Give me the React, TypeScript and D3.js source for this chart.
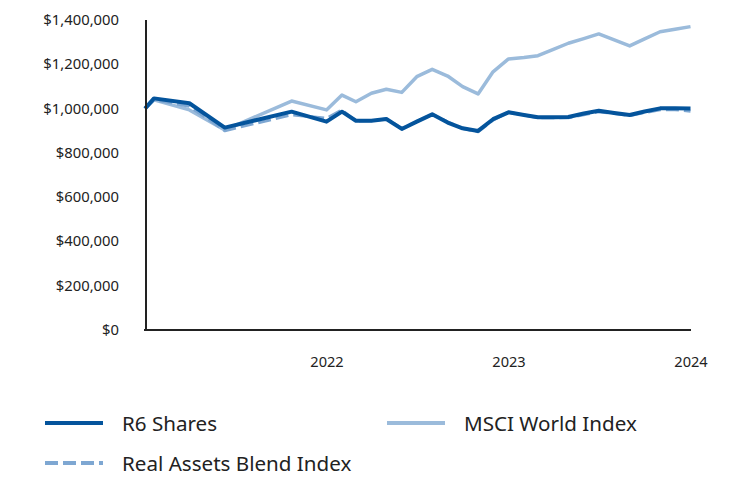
import React from 'react';
import * as d3 from 'd3';

// dates of the points (early ones are irregular, then month ends)
const dates = [
  '2021-01-01', '2021-01-19', '2021-03-31', '2021-06-10', '2021-10-22', '2021-12-31',
  '2022-01-31', '2022-02-28', '2022-03-31', '2022-04-30', '2022-05-31', '2022-06-30',
  '2022-07-31', '2022-08-31', '2022-09-30', '2022-10-31', '2022-11-30', '2022-12-31',
  '2023-01-31', '2023-02-28', '2023-03-31', '2023-04-30', '2023-05-31', '2023-06-30',
  '2023-07-31', '2023-08-31', '2023-09-30', '2023-10-31', '2023-11-30', '2023-12-31',
];

const r6Shares = [
  1000000, 1046000, 1024000, 914000, 986000, 941000,
  986000, 945000, 945000, 953000, 908000, 941000,
  974000, 937000, 911000, 899000, 952000, 983000,
  971000, 961000, 961000, 962000, 978000, 990000,
  980000, 971000, 987000, 1001000, 1001000, 1000000,
];

const msciWorld = [
  1000000, 1039000, 994000, 903000, 1034000, 994000,
  1061000, 1031000, 1069000, 1087000, 1073000, 1144000,
  1177000, 1147000, 1099000, 1066000, 1166000, 1224000,
  1231000, 1239000, 1267000, 1295000, 1316000, 1337000,
  1310000, 1283000, 1315000, 1347000, 1358000, 1370000,
];

const realAssets = [
  1000000, 1040000, 1010000, 900000, 972000, 956000,
  994000, 943000, 945000, 953000, 911000, 941000,
  974000, 940000, 910000, 895000, 948000, 983000,
  971000, 958000, 958000, 958000, 972000, 985000,
  978000, 968000, 982000, 995000, 995000, 988000,
];

const yTicks = [0, 200000, 400000, 600000, 800000, 1000000, 1200000, 1400000];
const xTicks = ['2022-01-01', '2023-01-01', '2024-01-01'];

const font = "'Segoe UI', 'Noto Sans', sans-serif";

export default function App() {
  const width = 732;
  const height = 480;
  const parse = d3.utcParse('%Y-%m-%d');

  const x = d3
    .scaleUtc()
    .domain([parse('2021-01-01') as Date, parse('2024-01-01') as Date])
    .range([145, 691]);
  const y = d3.scaleLinear().domain([0, 1400000]).range([330, 20]);

  const mk = (vals: number[]) =>
    d3
      .line<number>()
      .x((_, i) => x(parse(dates[i]) as Date))
      .y((d) => y(d))(vals) || '';

  const fmt = (v: number) => '$' + d3.format(',')(v);

  const series = [
    { name: 'MSCI World Index', vals: msciWorld, color: '#9bbbdb', w: 3.5, dash: '' },
    { name: 'Real Assets Blend Index', vals: realAssets, color: '#7ea7d2', w: 3, dash: '13,5' },
    { name: 'R6 Shares', vals: r6Shares, color: '#04549c', w: 4, dash: '' },
  ];

  const legend = [
    { name: 'R6 Shares', color: '#04549c', dash: '', lx: 45, ly: 423 },
    { name: 'MSCI World Index', color: '#9bbbdb', dash: '', lx: 387, ly: 423 },
    { name: 'Real Assets Blend Index', color: '#7ea7d2', dash: '13,5', lx: 45, ly: 463 },
  ];

  return (
    <svg
      width={width}
      height={height}
      style={{ position: 'absolute', left: 0, top: 0, background: '#fff' }}
      fontFamily={font}
    >
      {/* y labels */}
      {yTicks.map((t) => (
        <text key={t} x={119} y={y(t) + 5} textAnchor="end" fontSize={14.8} fill="#222">
          {fmt(t)}
        </text>
      ))}
      {/* x labels */}
      {xTicks.map((t) => (
        <text key={t} x={x(parse(t) as Date)} y={367} textAnchor="middle" fontSize={14.6} fill="#222">
          {t.slice(0, 4)}
        </text>
      ))}

      {series.map((s) => (
        <path
          key={s.name}
          d={mk(s.vals)}
          fill="none"
          stroke={s.color}
          strokeWidth={s.w}
          strokeDasharray={s.dash || undefined}
          strokeLinejoin="round"
        />
      ))}

      {/* axes */}
      <line x1={146} x2={146} y1={20} y2={331} stroke="#222" strokeWidth={2} />
      <line x1={144} x2={691} y1={330} y2={330} stroke="#222" strokeWidth={2} />

      {/* legend */}
      {legend.map((l) => (
        <g key={l.name}>
          <line
            x1={l.lx}
            x2={l.lx + 58}
            y1={l.ly}
            y2={l.ly}
            stroke={l.color}
            strokeWidth={4}
            strokeDasharray={l.dash || undefined}
          />
          <text x={l.lx + 77} y={l.ly + 8} fontSize={20.6} fill="#222">
            {l.name}
          </text>
        </g>
      ))}
    </svg>
  );
}
